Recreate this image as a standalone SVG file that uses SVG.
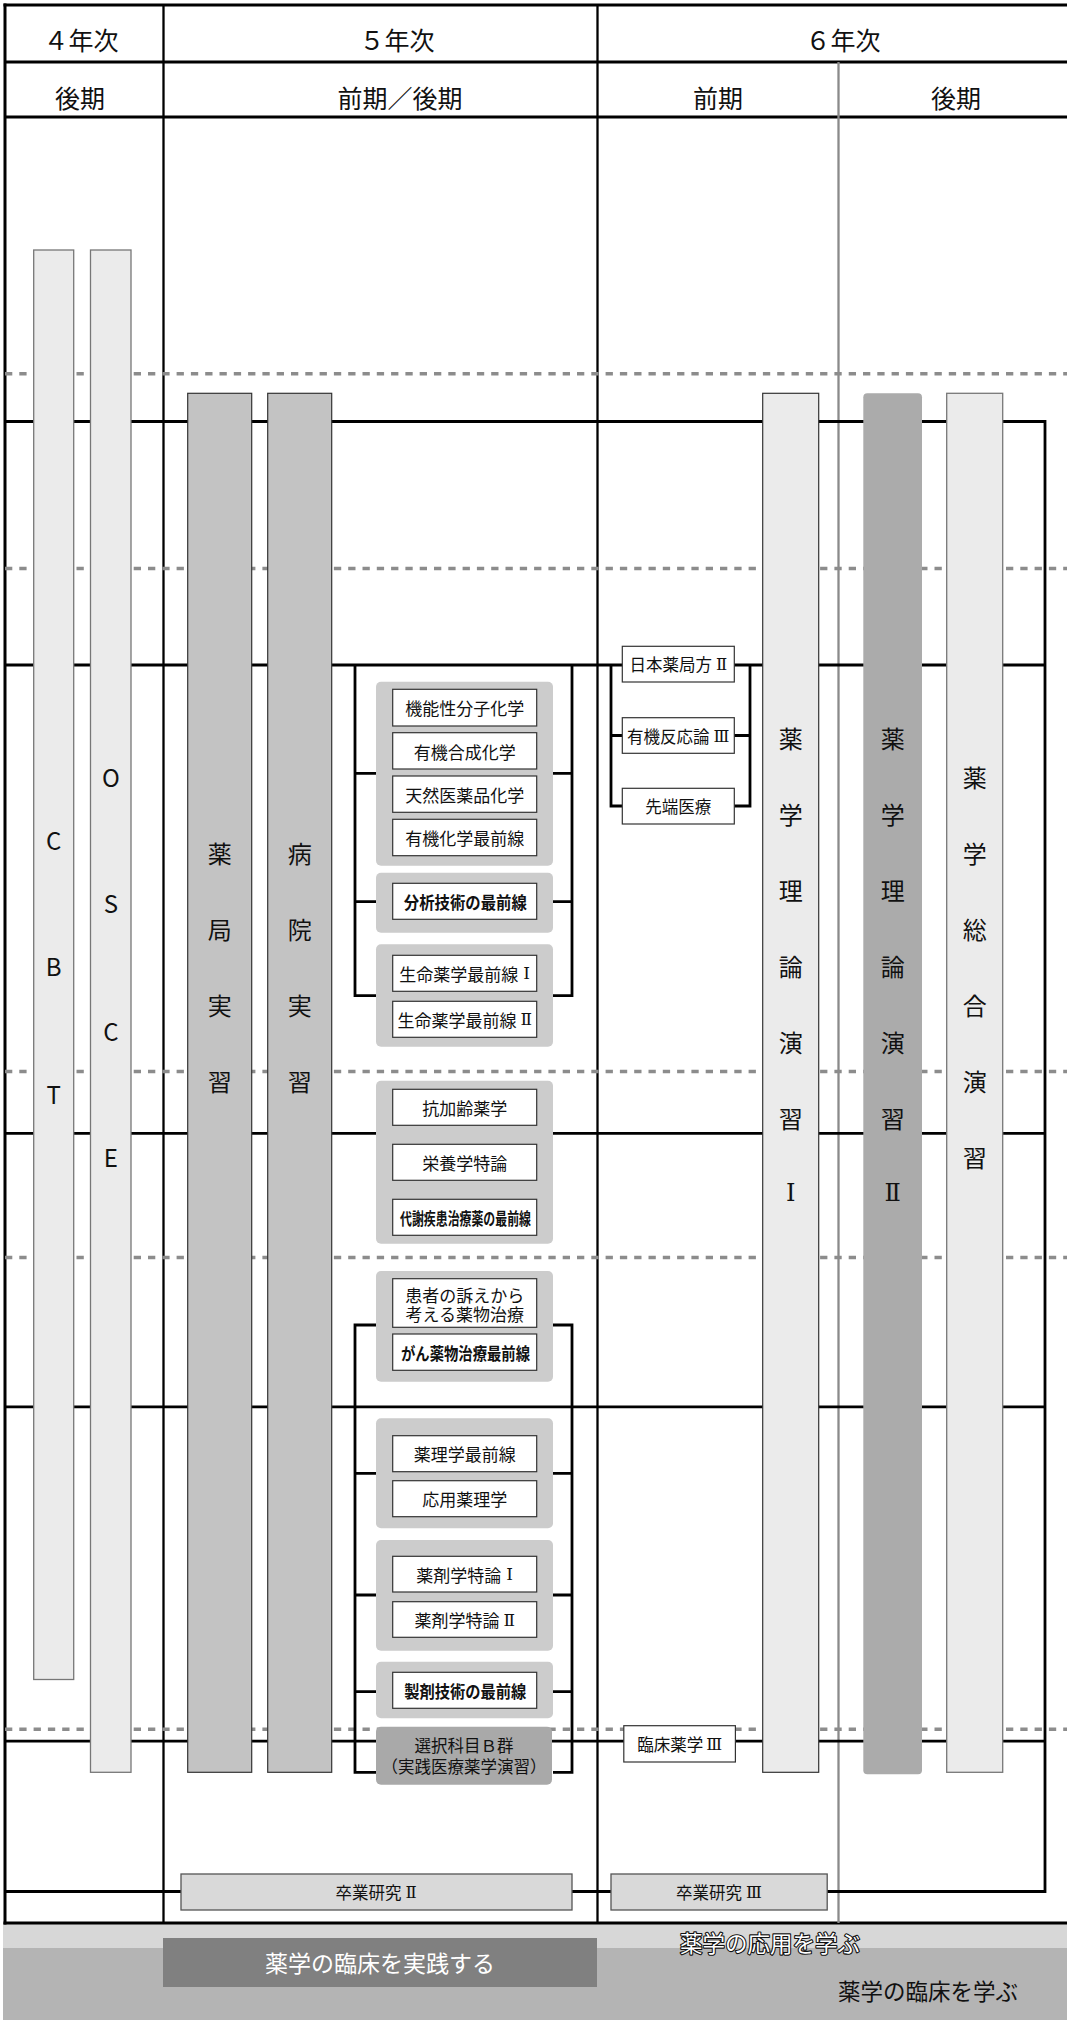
<svg xmlns="http://www.w3.org/2000/svg" width="1067" height="2020" viewBox="0 0 1067 2020">
<style>
text{font-family:"Noto Sans CJK JP","Noto Sans",sans-serif;fill:#111;dominant-baseline:central;text-anchor:middle}
.hd{font-size:25px}
.bt{font-size:24px}
.bx{font-size:17px}
.sm{font-size:16.5px}
.b{font-weight:700}
.rn{font-family:"DejaVu Serif","Liberation Serif","Noto Sans CJK JP",serif}
.frame{stroke:#000;stroke-width:3;fill:none}
.div{stroke:#000;stroke-width:2.3;fill:none}
.gdiv{stroke:#8a8a8a;stroke-width:2.3;fill:none}
.dash{stroke:#8c8c8c;stroke-width:3.5;stroke-dasharray:7.3 7;fill:none}
.ln{stroke:#000;stroke-width:2.8;fill:none}
.barL{fill:#ebebeb;stroke:#777;stroke-width:1.3}
.barL2{fill:#ebebeb;stroke:#333;stroke-width:1.2}
.barM{fill:#c3c3c3;stroke:#333;stroke-width:1.2}
.barD{fill:#ababab}
.grp{fill:#cccccc}
.box{fill:#fff;stroke:#333;stroke-width:1.2}
.res{fill:#d9d9d9;stroke:#555;stroke-width:1.3}
</style>
<rect x="0" y="0" width="1067" height="2020" fill="#fff"/>

<!-- bottom bands -->
<g id="bands">
<rect x="3" y="1923" width="1064" height="26" fill="#d7d7d7"/>
<rect x="3" y="1948" width="1064" height="72" fill="#b4b4b4"/>
<rect x="163" y="1938" width="434" height="49" fill="#808080"/>
<text x="380" y="1962" style="font-size:23px;fill:#fff">薬学の臨床を実践する</text>
<text x="770" y="1942" style="font-size:22.5px;fill:#fff;stroke:#111;stroke-width:2.2;paint-order:stroke;stroke-linejoin:round">薬学の応用を学ぶ</text>
<text x="928" y="1990" style="font-size:22.5px">薬学の臨床を学ぶ</text>
</g>

<!-- table frame -->
<g id="table">
<line class="frame" x1="3.5" y1="5" x2="1067" y2="5"/>
<line class="frame" x1="5" y1="62" x2="1067" y2="62"/>
<line class="frame" x1="5" y1="117" x2="1067" y2="117"/>
<line class="frame" x1="5" y1="3.5" x2="5" y2="1924.5"/>
<line class="frame" x1="3.5" y1="1923" x2="1067" y2="1923"/>
<line class="div" x1="163.5" y1="5" x2="163.5" y2="1923"/>
<line class="div" x1="597.5" y1="5" x2="597.5" y2="1923"/>
<line class="gdiv" x1="838.5" y1="62" x2="838.5" y2="1923"/>
<text class="hd" x="81" y="39">４年次</text>
<text class="hd" x="397" y="39">５年次</text>
<text class="hd" x="843" y="39">６年次</text>
<text class="hd" x="80" y="97">後期</text>
<text class="hd" x="400" y="97">前期／後期</text>
<text class="hd" x="718" y="97">前期</text>
<text class="hd" x="956" y="97">後期</text>
</g>

<!-- dashed period lines -->
<g id="dashes">
<line class="dash" x1="5" y1="373.7" x2="1067" y2="373.7"/>
<line class="dash" x1="5" y1="568.5" x2="1067" y2="568.5"/>
<line class="dash" x1="5" y1="1071.5" x2="1067" y2="1071.5"/>
<line class="dash" x1="5" y1="1257.5" x2="1067" y2="1257.5"/>
<line class="dash" x1="5" y1="1729.3" x2="1067" y2="1729.3"/>
</g>

<!-- connectors -->
<g id="connectors">
<path class="ln" d="M5 421.5 H1045 V1891.5 H5"/>
<line class="ln" x1="5" y1="665" x2="1045" y2="665"/>
<line class="ln" x1="5" y1="1133.3" x2="1045" y2="1133.3"/>
<line class="ln" x1="5" y1="1406.8" x2="1045" y2="1406.8"/>
<line class="ln" x1="5" y1="1741.2" x2="1045" y2="1741.2"/>
<path class="ln" d="M355 665 V995.7 H376 M355 773.3 H376 M355 901.7 H376"/>
<path class="ln" d="M572 665 V995.7 H553 M572 773.3 H553 M572 901.7 H553"/>
<path class="ln" d="M376 1325 H355 V1772.3 H376 M355 1473.3 H376 M355 1595 H376 M355 1691.7 H376"/>
<path class="ln" d="M553 1325 H572 V1772.3 H553 M572 1473.3 H553 M572 1595 H553 M572 1691.7 H553"/>
<path class="ln" d="M611 665 V806 H622 M611 735.5 H622"/>
<path class="ln" d="M750 665 V806 H734 M750 735.5 H734"/>
</g>

<!-- long bars -->
<g id="cbt"><rect class="barL" x="33.7" y="250" width="40" height="1429.5"/>
<text class="bt"><tspan x="53.7" y="839">C</tspan><tspan x="53.7" y="965">B</tspan><tspan x="53.7" y="1093">T</tspan></text></g>
<g id="osce"><rect class="barL" x="90.5" y="250" width="40.5" height="1522.3"/>
<text class="bt"><tspan x="110.8" y="776">O</tspan><tspan x="110.8" y="902">S</tspan><tspan x="110.8" y="1030">C</tspan><tspan x="110.8" y="1156">E</tspan></text></g>
<g id="yakkyoku"><rect class="barM" x="187.7" y="393.3" width="64" height="1379"/>
<text class="bt"><tspan x="219.7" y="852">薬</tspan><tspan x="219.7" y="928">局</tspan><tspan x="219.7" y="1004">実</tspan><tspan x="219.7" y="1080">習</tspan></text></g>
<g id="byoin"><rect class="barM" x="267.7" y="393.3" width="64" height="1379"/>
<text class="bt"><tspan x="299.7" y="852">病</tspan><tspan x="299.7" y="928">院</tspan><tspan x="299.7" y="1004">実</tspan><tspan x="299.7" y="1080">習</tspan></text></g>
<g id="riron1"><rect class="barL2" x="762.7" y="393.3" width="56" height="1379"/>
<text class="bt"><tspan x="790.7" y="737">薬</tspan><tspan x="790.7" y="813">学</tspan><tspan x="790.7" y="889">理</tspan><tspan x="790.7" y="965">論</tspan><tspan x="790.7" y="1041">演</tspan><tspan x="790.7" y="1117">習</tspan><tspan class="rn" x="790.7" y="1193">Ⅰ</tspan></text></g>
<g id="riron2"><rect class="barD" x="863.3" y="393.3" width="58.7" height="1381" rx="4"/>
<text class="bt"><tspan x="892.7" y="737">薬</tspan><tspan x="892.7" y="813">学</tspan><tspan x="892.7" y="889">理</tspan><tspan x="892.7" y="965">論</tspan><tspan x="892.7" y="1041">演</tspan><tspan x="892.7" y="1117">習</tspan><tspan class="rn" x="892.7" y="1193">Ⅱ</tspan></text></g>
<g id="sogo"><rect class="barL" x="946.7" y="393.3" width="56" height="1379"/>
<text class="bt"><tspan x="974.7" y="776">薬</tspan><tspan x="974.7" y="852">学</tspan><tspan x="974.7" y="928">総</tspan><tspan x="974.7" y="1004">合</tspan><tspan x="974.7" y="1080">演</tspan><tspan x="974.7" y="1156">習</tspan></text></g>

<!-- 5th-year elective groups -->
<g id="grp1"><rect class="grp" x="376" y="681.7" width="177" height="184" rx="5"/>
<rect class="box" x="392.7" y="689.3" width="144" height="36.7"/><text class="bx" x="464.7" y="707.7">機能性分子化学</text>
<rect class="box" x="392.7" y="732.7" width="144" height="36.3"/><text class="bx" x="464.7" y="751">有機合成化学</text>
<rect class="box" x="392.7" y="776" width="144" height="36.3"/><text class="bx" x="464.7" y="794.2">天然医薬品化学</text>
<rect class="box" x="392.7" y="819.3" width="144" height="36.4"/><text class="bx" x="464.7" y="837.5">有機化学最前線</text></g>
<g id="grp2"><rect class="grp" x="376" y="872.7" width="177" height="60" rx="5"/>
<rect class="box" x="392.7" y="883.3" width="144" height="36"/><text class="bx b" x="465.3" y="901.3" textLength="123" lengthAdjust="spacingAndGlyphs">分析技術の最前線</text></g>
<g id="grp3"><rect class="grp" x="376" y="944.3" width="177" height="102.4" rx="5"/>
<rect class="box" x="392.7" y="955.3" width="144" height="36"/><text class="bx" x="464.7" y="973.3">生命薬学最前線<tspan class="rn" dx="5">Ⅰ</tspan></text>
<rect class="box" x="392.7" y="1001.3" width="144" height="36"/><text class="bx" x="464.7" y="1019.3">生命薬学最前線<tspan class="rn" dx="4">Ⅱ</tspan></text></g>
<g id="grp4"><rect class="grp" x="376" y="1080.7" width="177" height="163" rx="5"/>
<rect class="box" x="392.7" y="1089.3" width="144" height="36"/><text class="bx" x="464.7" y="1107.3">抗加齢薬学</text>
<rect class="box" x="392.7" y="1144.3" width="144" height="36"/><text class="bx" x="464.7" y="1162.3">栄養学特論</text>
<rect class="box" x="392.7" y="1199.3" width="144" height="36"/><text class="bx b" x="465.5" y="1217.3" textLength="131" lengthAdjust="spacingAndGlyphs">代謝疾患治療薬の最前線</text></g>
<g id="grp5"><rect class="grp" x="376" y="1271" width="177" height="110.7" rx="5"/>
<rect class="box" x="392.7" y="1278.7" width="144" height="48.6"/><text class="bx"><tspan x="464.7" y="1294">患者の訴えから</tspan><tspan x="464.7" y="1313">考える薬物治療</tspan></text>
<rect class="box" x="392.7" y="1334" width="144" height="36.3"/><text class="bx b" x="465.5" y="1352.2" textLength="129" lengthAdjust="spacingAndGlyphs">がん薬物治療最前線</text></g>
<g id="grp6"><rect class="grp" x="376" y="1418.3" width="177" height="110" rx="5"/>
<rect class="box" x="392.7" y="1435.7" width="144" height="36"/><text class="bx" x="464.7" y="1453.7">薬理学最前線</text>
<rect class="box" x="392.7" y="1480.7" width="144" height="36"/><text class="bx" x="464.7" y="1498.7">応用薬理学</text></g>
<g id="grp7"><rect class="grp" x="376" y="1540" width="177" height="110.7" rx="5"/>
<rect class="box" x="392.7" y="1556.3" width="144" height="35.7"/><text class="bx" x="464.7" y="1574.2">薬剤学特論<tspan class="rn" dx="5">Ⅰ</tspan></text>
<rect class="box" x="392.7" y="1601.7" width="144" height="35.6"/><text class="bx" x="464.7" y="1619.5">薬剤学特論<tspan class="rn" dx="4">Ⅱ</tspan></text></g>
<g id="grp8"><rect class="grp" x="376" y="1661.7" width="177" height="56.6" rx="5"/>
<rect class="box" x="392.7" y="1672.3" width="144" height="36"/><text class="bx b" x="465.3" y="1690.3" textLength="122" lengthAdjust="spacingAndGlyphs">製剤技術の最前線</text></g>
<g id="senntaku"><rect x="376" y="1726.7" width="176" height="58" rx="5" fill="#a9a9a9"/>
<text class="sm"><tspan x="464" y="1745">選択科目Ｂ群</tspan><tspan x="464" y="1766">（実践医療薬学演習）</tspan></text></g>

<!-- 6th-year electives -->
<g id="jp2"><rect class="box" x="622.3" y="646.3" width="112" height="35.7"/><text class="sm" x="678.3" y="664.2">日本薬局方<tspan class="rn" dx="4">Ⅱ</tspan></text></g>
<g id="yuki3"><rect class="box" x="622.3" y="717.7" width="112" height="35.6"/><text class="sm" x="678.3" y="735.5">有機反応論<tspan class="rn" dx="4">Ⅲ</tspan></text></g>
<g id="sentan"><rect class="box" x="622.3" y="788.3" width="112" height="35.7"/><text class="sm" x="678.3" y="806.2">先端医療</text></g>
<g id="rinsho3"><rect class="box" x="623.8" y="1725.7" width="111.6" height="36.3"/><text class="sm" x="679.6" y="1743.8">臨床薬学<tspan class="rn" dx="3">Ⅲ</tspan></text></g>

<!-- graduation research -->
<g id="sotsu2"><rect class="res" x="181" y="1874" width="391" height="36"/><text class="sm" x="376" y="1892">卒業研究<tspan class="rn" dx="4">Ⅱ</tspan></text></g>
<g id="sotsu3"><rect class="res" x="611" y="1874" width="216.2" height="36"/><text class="sm" x="719" y="1892">卒業研究<tspan class="rn" dx="4">Ⅲ</tspan></text></g>
</svg>
